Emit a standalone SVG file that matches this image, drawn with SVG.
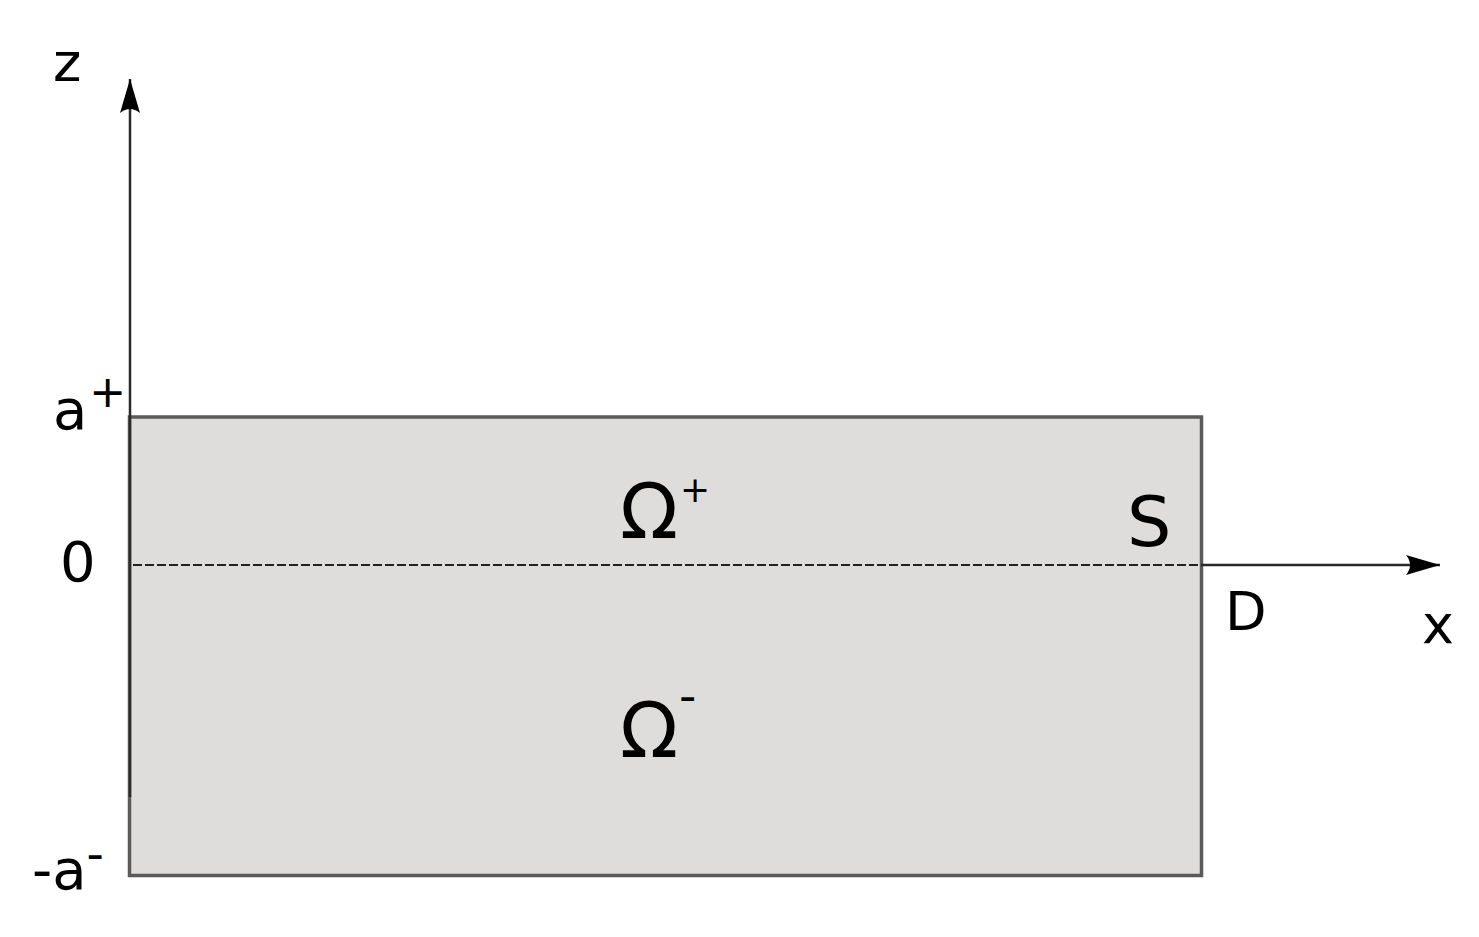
<svg xmlns="http://www.w3.org/2000/svg" width="1479" height="937" viewBox="0 0 1479 937">
<style>
text{font-family:"DejaVu Sans",sans-serif;fill:#000}
.axis{stroke:#2a2a2a;stroke-width:2.5;fill:none}
</style>
<defs>
<marker id="arr" viewBox="0 0 36 24" refX="34" refY="12" markerWidth="36" markerHeight="24" markerUnits="userSpaceOnUse" orient="auto">
<path d="M34,12 L0,2 Q8,12 0,22 Z" fill="#000"/>
</marker>
</defs>
<rect width="1479" height="937" fill="#fff"/>
<g id="domain">
<rect x="129.5" y="417" width="1072" height="458.5" fill="#dedddc" stroke="#5a5a5a" stroke-width="3.5"/>
</g>
<g id="connectors">
<line class="axis" x1="130" y1="797" x2="130" y2="79" marker-end="url(#arr)"/>
<line x1="133" y1="565" x2="1201" y2="565" stroke="#222" stroke-width="2" stroke-dasharray="9,3"/>
<line class="axis" x1="1201" y1="565" x2="1440" y2="565" marker-end="url(#arr)"/>
</g>
<g id="labels">
<text x="53" y="81" font-size="54">z</text>
<text x="53" y="429" font-size="56">a<tspan dx="2" dy="-22" font-size="44">+</tspan></text>
<text x="60" y="581" font-size="56">0</text>
<text x="32" y="889" font-size="56">-a<tspan dy="-19" font-size="48">-</tspan></text>
<text x="620" y="538" font-size="76">Ω<tspan dx="2" dy="-36" font-size="36">+</tspan></text>
<text x="620" y="757" font-size="76">Ω<tspan dx="1" dy="-45" font-size="48">-</tspan></text>
<text x="1127" y="546" font-size="70">S</text>
<text x="1225" y="630" font-size="54">D</text>
<text x="1422" y="643" font-size="54">x</text>
</g>
</svg>
